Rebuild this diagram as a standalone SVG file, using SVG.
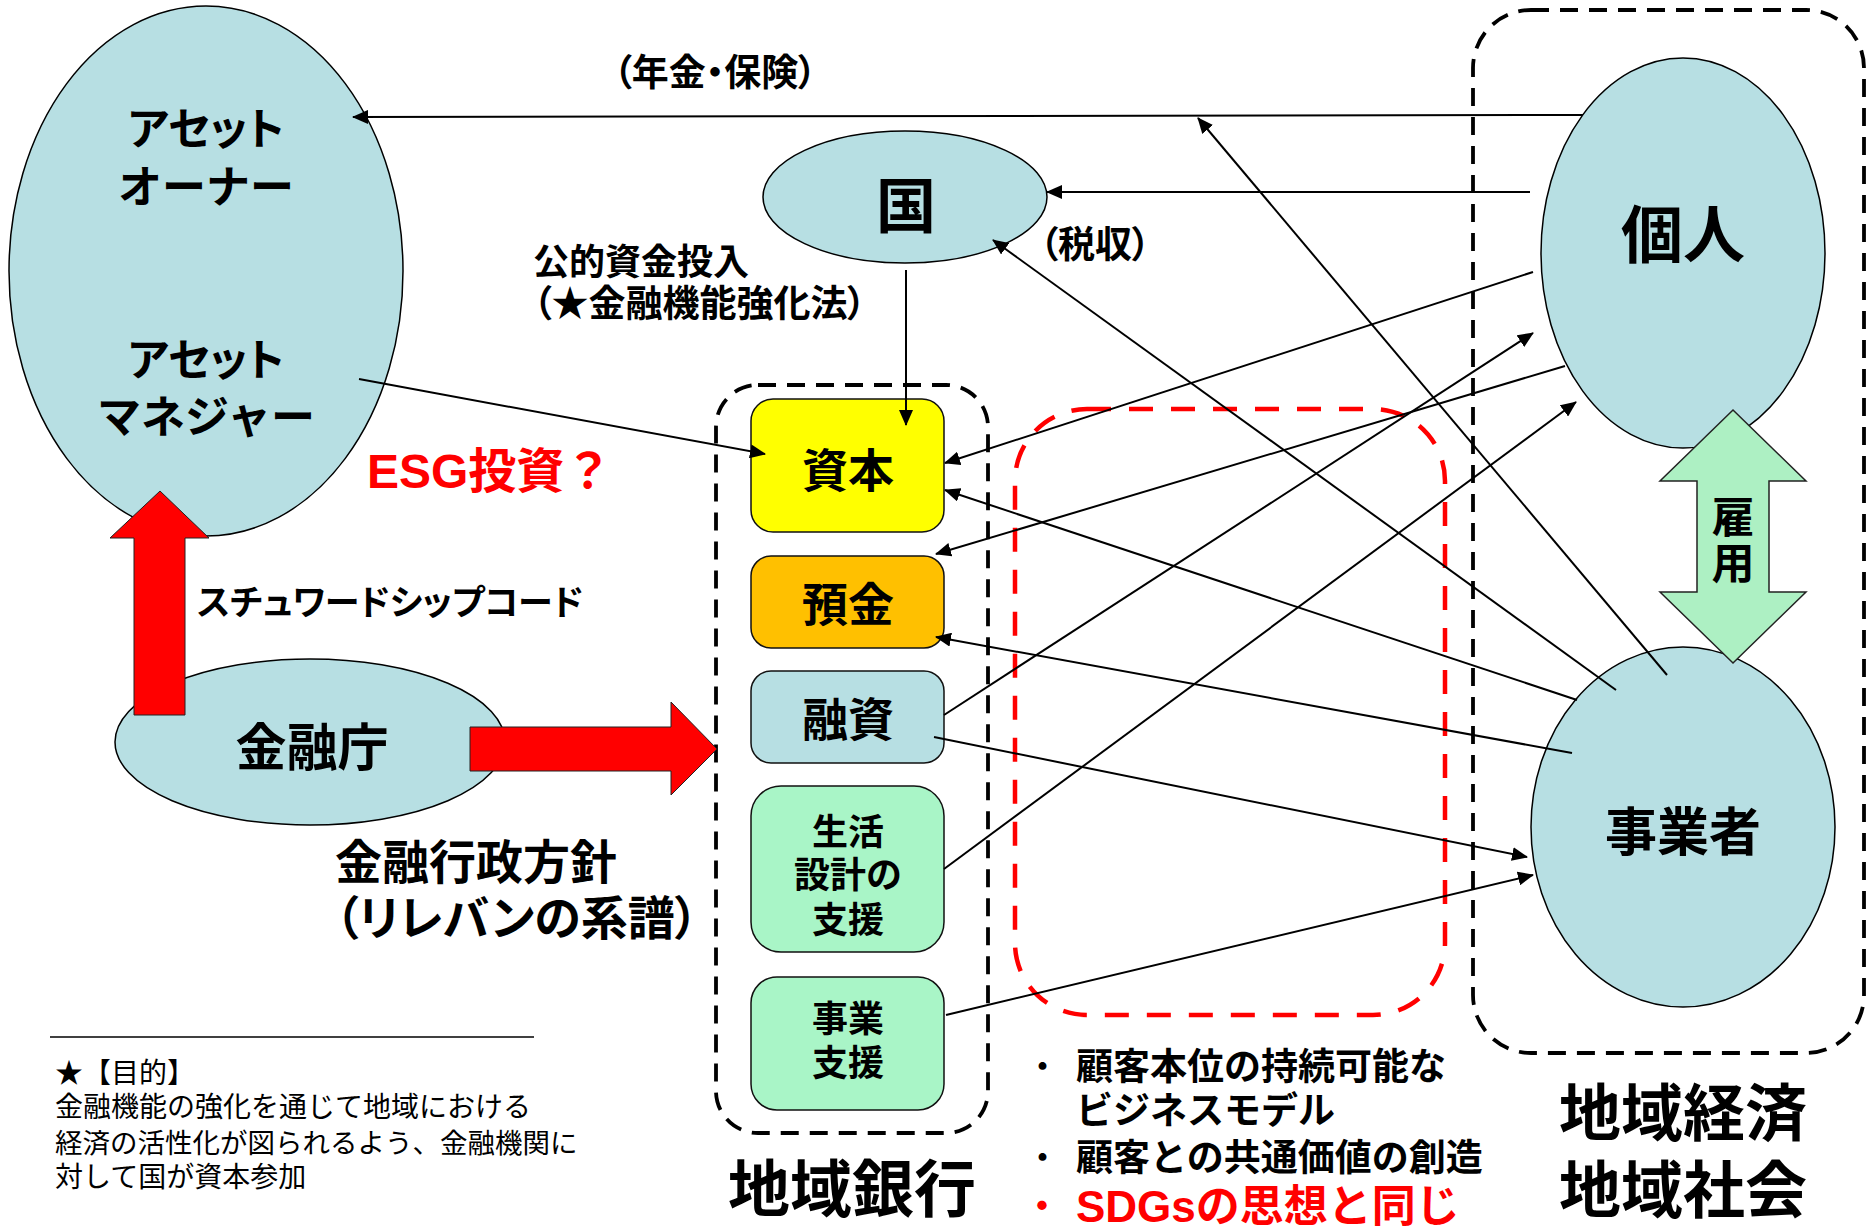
<svg xmlns="http://www.w3.org/2000/svg" width="1868" height="1226" viewBox="0 0 1868 1226">
<style>
.n{fill:#B7DFE3;stroke:#000;stroke-width:1.5}
.t{font-family:"Noto Sans CJK JP",sans-serif;font-weight:700;fill:#000}
.r{font-family:"Noto Sans CJK JP",sans-serif;font-weight:400;fill:#000}
.lat{font-family:"Liberation Sans","Noto Sans CJK JP",sans-serif}
.palt{font-feature-settings:"palt" 1}
.red{fill:#FF0000}
.mid{text-anchor:middle}
.dot{font-weight:400}
.box{stroke:#111;stroke-width:1.5}
.dash{fill:none;stroke:#000;stroke-width:3.8;stroke-dasharray:18 11}
.rdash{fill:none;stroke:#FF0000;stroke-width:4.5;stroke-dasharray:24 18}
.bigarrow{fill:#FF0000;stroke:#222;stroke-width:1}
#connectors line{stroke:#000;stroke-width:2;marker-end:url(#ah)}
</style>
<defs>
<marker id="ah" markerUnits="userSpaceOnUse" markerWidth="16" markerHeight="14" refX="15" refY="7" orient="auto">
<path d="M0,0 L16,7 L0,14 z" fill="#000"/>
</marker>
</defs>
<rect width="1868" height="1226" fill="#fff"/>

<g id="region-container">
<rect class="dash" x="1473" y="10" width="391" height="1043" rx="58"/>
<text class="t mid" x="1683" y="1136" font-size="62">地域経済</text>
<text class="t mid" x="1683" y="1213" font-size="62">地域社会</text>
</g>

<g id="bank-container">
<rect class="dash" x="716" y="385" width="272" height="748" rx="42"/>
<text class="t mid" x="852" y="1212" font-size="62">地域銀行</text>
</g>

<g id="sdgs-container">
<rect class="rdash" x="1015" y="409" width="430" height="606" rx="72"/>
</g>

<g id="asset-node">
<ellipse class="n" cx="206" cy="271" rx="197" ry="265"/>
<text class="t mid palt" x="206" y="145" font-size="44">アセット</text>
<text class="t mid" x="206" y="203" font-size="44">オーナー</text>
<text class="t mid palt" x="206" y="376" font-size="44">アセット</text>
<text class="t mid" x="206" y="433" font-size="44">マネジャー</text>
</g>

<g id="kuni-node">
<ellipse class="n" cx="905" cy="197" rx="142" ry="66"/>
<text class="t mid" x="906" y="228" font-size="60">国</text>
</g>

<g id="kojin-node">
<ellipse class="n" cx="1683" cy="253" rx="142" ry="195"/>
<text class="t mid" x="1683" y="258" font-size="62">個人</text>
</g>

<g id="jigyosha-node">
<ellipse class="n" cx="1683" cy="827" rx="152" ry="180"/>
<text class="t mid" x="1683" y="851" font-size="52">事業者</text>
</g>

<g id="fsa-node">
<ellipse class="n" cx="310" cy="742" rx="195" ry="83"/>
<text class="t mid" x="312" y="766" font-size="51">金融庁</text>
</g>

<g id="shihon-node">
<rect class="box" x="751" y="399" width="193" height="133" rx="22" fill="#FFFF00"/>
<text class="t mid" x="848" y="487" font-size="46">資本</text>
</g>

<g id="yokin-node">
<rect class="box" x="751" y="556" width="193" height="92" rx="20" fill="#FFC000"/>
<text class="t mid" x="848" y="621" font-size="46">預金</text>
</g>

<g id="yushi-node">
<rect class="box" x="751" y="671" width="193" height="92" rx="20" fill="#B7DFE3"/>
<text class="t mid" x="848" y="736" font-size="46">融資</text>
</g>

<g id="seikatsu-node">
<rect class="box" x="751" y="786" width="193" height="166" rx="30" fill="#A9F5C7"/>
<text class="t mid" x="848" y="845" font-size="36">生活</text>
<text class="t mid" x="848" y="888" font-size="36">設計の</text>
<text class="t mid" x="848" y="933" font-size="36">支援</text>
</g>

<g id="jigyoshien-node">
<rect class="box" x="751" y="977" width="193" height="133" rx="26" fill="#A9F5C7"/>
<text class="t mid" x="848" y="1032" font-size="36">事業</text>
<text class="t mid" x="848" y="1076" font-size="36">支援</text>
</g>

<g id="koyo-arrow">
<polygon points="1733,410 1806,481 1769,481 1769,592 1806,592 1733,663 1660,592 1697,592 1697,481 1660,481" fill="#ADF0C3" stroke="#222" stroke-width="1.5"/>
<text class="t mid" x="1733" y="533" font-size="43">雇</text>
<text class="t mid" x="1733" y="579" font-size="43">用</text>
</g>

<g id="steward-arrow">
<polygon class="bigarrow" points="134,715 185,715 185,538 209,538 160,491 110,538 134,538"/>
</g>

<g id="policy-arrow">
<polygon class="bigarrow" points="470,727 671,727 671,702 717,749 671,795 671,771 470,771"/>
</g>

<g id="connectors">
<line x1="1583" y1="115" x2="353" y2="117"/>
<line x1="1667" y1="675" x2="1198" y2="118"/>
<line x1="1530" y1="192" x2="1047" y2="192"/>
<line x1="1616" y1="690" x2="993" y2="240"/>
<line x1="906" y1="270" x2="906" y2="425"/>
<line x1="359" y1="379" x2="765" y2="454"/>
<line x1="1533" y1="272" x2="945" y2="463"/>
<line x1="1565" y1="366" x2="936" y2="554"/>
<line x1="944" y1="715" x2="1533" y2="333"/>
<line x1="944" y1="869" x2="1576" y2="402"/>
<line x1="1577" y1="700" x2="945" y2="490"/>
<line x1="1572" y1="753" x2="936" y2="637"/>
<line x1="934" y1="737" x2="1527" y2="857"/>
<line x1="946" y1="1015" x2="1533" y2="875"/>
</g>

<g id="labels">
<text class="t mid palt" x="715" y="86" font-size="37">（年金・保険）</text>
<text class="t palt" x="533" y="275" font-size="36">公的資金投入</text>
<text class="t palt" x="533" y="317" font-size="37">（★金融機能強化法）</text>
<text class="t mid palt" x="1095" y="258" font-size="37">（税収）</text>
<text class="t lat red" x="367" y="488" font-size="48">ESG投資？</text>
<text class="t palt" x="197" y="615" font-size="35">スチュワードシップコード</text>
<text class="t" x="335" y="879" font-size="47">金融行政方針</text>
<text class="t palt" x="335" y="935" font-size="47">（リレバンの系譜）</text>
<text class="t" y="1080" font-size="37"><tspan class="dot" x="1024">・</tspan><tspan x="1076">顧客本位の持続可能な</tspan></text>
<text class="t" x="1076" y="1124" font-size="37">ビジネスモデル</text>
<text class="t" y="1171" font-size="37"><tspan class="dot" x="1024">・</tspan><tspan x="1076">顧客との共通価値の創造</tspan></text>
<text class="t lat red" y="1222" font-size="44"><tspan class="dot" x="1020">・</tspan><tspan x="1076">SDGsの思想と同じ</tspan></text>
</g>

<g id="footnote">
<line x1="50" y1="1037" x2="534" y2="1037" stroke="#000" stroke-width="1.5"/>
<text class="r" x="55" y="1083" font-size="28">★【目的】</text>
<text class="r" x="55" y="1117" font-size="28">金融機能の強化を通じて地域における</text>
<text class="r" x="55" y="1153" font-size="27.5">経済の活性化が図られるよう、金融機関に</text>
<text class="r" x="55" y="1187" font-size="28">対して国が資本参加</text>
</g>
</svg>
